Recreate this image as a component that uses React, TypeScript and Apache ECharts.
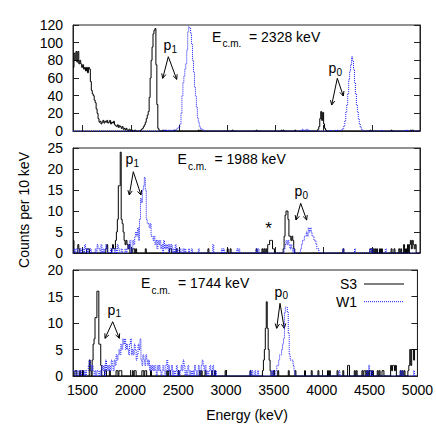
import React, { useEffect, useRef } from 'react';
import * as echarts from 'echarts';

// ---------- data ----------
const X_MIN = 1400;
const X_MAX = 5000;
const BIN = 10;
const energyTicks = [1500, 2000, 2500, 3000, 3500, 4000, 4500, 5000];
const yMaxes = [120, 25, 20];
const yIntervals = [20, 5, 5];
const beamEnergies = ['2328', '1988', '1744'];
const seriesNames = ['S3', 'W1'];

type Seg = [number, number[]];

// Ec.m. = 2328 keV
const topS3: Seg[] = [
  [1400, [72, 88, 80, 90, 78, 90, 76, 80, 76, 72, 75, 70, 72, 68, 72, 66, 72, 70, 56, 46, 42, 40, 35, 32, 25, 20, 14, 10, 11, 8, 10, 12, 9, 11, 10, 12, 9, 10, 12, 8, 10, 9, 11, 7, 6, 5, 7, 4, 6, 5, 3, 5, 2, 3, 1, 3, 1, 0, 2, 1, 0, 1, 0, 0, 1]],
  [2100, [1, 2, 3, 5, 7, 10, 14, 18, 22, 38, 60, 80, 95, 110, 114, 116, 75, 30, 3, 1]],
  [2330, [1, 0, 0, 1]],
  [2450, [1]],
  [2700, [1, 0, 1]],
  [3050, [1]],
  [3300, [1]],
  [3560, [1, 0, 1]],
  [3700, [1]],
  [3940, [2, 5, 14, 22, 12, 21, 8, 3, 1]],
  [4480, [1]],
  [4700, [1]],
  [4900, [1, 0, 1]],
];
const topW1: Seg[] = [
  [2340, [1, 0, 1, 0, 0, 1, 0, 1, 0, 0, 1, 0, 1]],
  [2470, [2, 3, 4, 5, 8, 20, 40, 55, 62, 70, 76, 92, 112, 118, 117, 110, 98, 80, 66, 50, 40, 27, 15, 10, 5, 3, 2, 2, 1]],
  [3760, [1, 0, 2, 1, 0, 1, 2, 0, 1]],
  [4060, [1]],
  [4120, [1, 0, 1]],
  [4180, [1, 2, 3, 6, 12, 22, 30, 42, 58, 68, 75, 84, 80, 70, 55, 42, 30, 22, 14, 8, 4, 2, 1]],
  [4600, [1]],
  [4850, [1, 0, 1]],
];

// Ec.m. = 1988 keV
const midS3: Seg[] = [
  [1400, [3, 0, 0, 0, 0, 2, 1, 0, 0, 0, 0, 0, 0, 0, 1, 1, 1, 0]],
  [1740, [1, 2, 0, 0, 0, 0, 1, 2, 1, 1, 3, 5, 8, 16, 16, 24, 8, 7, 5, 3, 2, 3, 2, 1, 2, 0, 0, 0, 1, 1, 0, 1]],
  [2150, [1]],
  [2400, [1, 1]],
  [2470, [1]],
  [2800, [1]],
  [3000, [1]],
  [3030, [1]],
  [3300, [1]],
  [3360, [1, 0, 1, 0, 1, 0, 2, 2, 3, 3, 3, 1, 1]],
  [3580, [1, 4, 9, 10, 10, 8, 4, 4, 3, 4, 3, 1]],
  [4200, [1]],
  [4480, [1, 1, 0, 1, 0, 1, 0, 1, 0, 0, 1, 0, 1]],
  [4700, [1, 0, 0, 1, 0, 0, 0, 0, 1, 0, 1, 0, 0, 2, 0, 1, 0, 2, 0, 2, 3, 1, 3, 2, 1, 2, 0, 0, 0, 0]],
];
const midW1: Seg[] = [
  [1400, [0, 1, 0, 1, 1, 0, 0, 1, 0, 1, 1, 0, 2, 1, 0, 1, 0, 0, 1, 0, 0, 0, 0, 1, 0, 2, 1, 1, 0, 2, 0, 1, 0, 1, 2, 1, 0, 0, 0, 1, 0, 1, 1, 0, 1, 0, 2, 1, 0, 0, 1, 0, 0, 0, 1, 0, 1]],
  [1970, [2, 1, 3, 0, 1, 3, 2, 4, 5, 4, 6, 3, 8, 13, 12, 15, 16, 18, 15, 8, 7, 7, 6, 7, 4, 4, 3, 4, 2, 3, 1, 3, 2, 3, 1, 2, 0, 3, 1, 2, 1, 2, 0, 2, 1, 2, 0, 1, 0, 2, 0, 1, 0, 0, 1, 0, 0, 1, 0, 1, 0, 0, 0, 1, 0, 0, 1]],
  [2700, [1, 0, 0, 0, 0, 0, 0, 0, 0, 0, 0, 0, 0, 0, 0, 2, 0, 0, 0, 0, 0, 0, 0, 0, 1, 0, 1]],
  [3100, [1, 0, 1]],
  [3300, [1, 0, 1]],
  [3590, [1, 2, 3, 2, 3, 2, 1, 2, 1, 0, 1, 0, 0, 0, 0, 0, 0, 1, 2, 3, 3, 4, 4, 5, 4, 6, 5, 6, 5, 4, 4, 3, 3, 2, 1, 1]],
  [4200, [1]],
  [4320, [1]],
  [4480, [1, 0, 1]],
  [4640, [1]],
];

// Ec.m. = 1744 keV
const botS3: Seg[] = [
  [1400, [0, 0, 1, 1, 0, 0, 0, 1, 0, 0, 1, 0, 0, 0, 0, 0, 0, 3, 1, 0, 3, 6, 7, 11, 11, 16, 16, 6, 6, 2, 0, 0, 0, 1, 1, 0, 0, 0, 1, 0, 0, 0, 0, 0, 0, 1, 1, 0, 1, 1, 1]],
  [2020, [1, 0, 1, 1]],
  [2120, [1, 1, 0, 1, 1, 0, 0, 0, 0, 1]],
  [2380, [1, 0, 1, 1]],
  [2500, [1]],
  [2720, [1, 0, 1, 0, 0, 0, 1]],
  [2850, [1, 0, 0, 1]],
  [2990, [1]],
  [3250, [1]],
  [3380, [1, 3, 5, 9, 14, 9, 5, 3, 1]],
  [3490, [1]],
  [3540, [1]],
  [3650, [1]],
  [3720, [1]],
  [3820, [1]],
  [3890, [1]],
  [3960, [1]],
  [4060, [1, 0, 1]],
  [4160, [1]],
  [4220, [1]],
  [4270, [2, 2]],
  [4340, [1, 0, 1]],
  [4420, [1, 0, 1, 1, 0, 1, 0, 1, 1, 1, 0, 1]],
  [4580, [1, 0, 1, 0, 0, 1, 1]],
  [4720, [2, 1, 2, 2, 1, 2, 0, 0, 0, 0, 1, 0, 1, 0, 1, 0, 0, 0, 1, 2, 5, 2, 5, 5, 3, 5, 5, 5]],
];
const botW1: Seg[] = [
  [1400, [
    1, 1, 0, 1, 1, 0, 1, 1, 0, 1,
    1, 0, 1, 0, 1, 1, 2, 3, 2, 1,
    2, 1, 0, 1, 0, 1, 1, 0, 1, 0,
    2, 1, 2, 0, 3, 1, 2, 1, 2, 1,
    3, 2, 1, 3, 2, 4, 3, 4, 5, 4,
    6, 5, 7, 6, 7, 5, 6, 5, 4, 6,
    7, 4, 5, 4, 6, 5, 3, 4, 6, 5,
    7, 3, 2, 4, 3, 2, 4, 3, 2, 3,
    1, 2, 1, 2, 1, 2, 1, 0, 2, 1,
    2, 1, 0, 1, 2, 1, 0, 2, 3, 1,
    2, 0, 1, 2, 0, 1, 0, 1, 2, 0,
    1, 0, 1, 2, 1, 3, 2, 0, 1, 0,
    2, 1, 0, 1, 0, 1, 0, 2, 1, 0,
    1, 2, 0, 1, 2, 3, 2, 1, 2, 0,
    1, 0, 1, 2, 1, 0, 2, 1, 0, 1,
  ]],
  [3250, [1, 0, 1, 0, 0, 1, 0, 0, 1]],
  [3470, [1, 0, 1, 0, 0, 1, 2, 2, 3, 4, 4, 5, 6, 7, 12, 13, 13, 12, 8, 4, 3, 3, 3, 2, 1]],
  [4180, [1]],
  [4470, [1, 0, 2, 1, 0, 1]],
  [4820, [1, 0, 1]],
  [4960, [1]],
];

const s3Panels = [topS3, midS3, botS3];
const w1Panels = [topW1, midW1, botW1];

// ---------- helpers ----------
function toSteps(segs: Seg[]): [number, number][] {
  const counts = new Map<number, number>();
  segs.forEach(([start, vals]) => vals.forEach((v, i) => counts.set(start + i * BIN, v)));
  const out: [number, number][] = [];
  for (let e = X_MIN; e < X_MAX; e += BIN) out.push([e, counts.get(e) ?? 0]);
  out.push([X_MAX, out[out.length - 1][1]]);
  return out;
}

const FONT = '"Liberation Sans", Arial, Helvetica, sans-serif';
const S3_COLOR = '#000';
const W1_COLOR = '#1a1aff';

function txt(x: number, baseline: number, text: string, size: number, align = 'left'): any {
  return {
    type: 'text',
    x,
    y: baseline - 0.35 * size,
    style: { text, fontSize: size, fontFamily: FONT, fill: '#000', align, verticalAlign: 'middle' },
  };
}

function arrow(x1: number, y1: number, x2: number, y2: number): any[] {
  const ang = Math.atan2(y2 - y1, x2 - x1);
  const L = 5;
  const a = 0.45;
  const p1 = [x2 - L * Math.cos(ang - a), y2 - L * Math.sin(ang - a)];
  const p2 = [x2 - L * Math.cos(ang + a), y2 - L * Math.sin(ang + a)];
  return [
    { type: 'line', shape: { x1, y1, x2, y2 }, style: { stroke: '#000', lineWidth: 1 } },
    { type: 'polyline', shape: { points: [p1, [x2, y2], p2] }, style: { stroke: '#000', fill: null, lineWidth: 1 } },
  ];
}

function ecm(x: number, baseline: number, value: string): any[] {
  return [
    txt(x, baseline, 'E', 14),
    txt(x + 10.5, baseline + 5.6, 'c.m.', 10),
    txt(x + 37, baseline, '= ' + value + ' keV', 14),
  ];
}

function pLabel(x: number, baseline: number, sub: string): any[] {
  return [txt(x, baseline, 'p', 14), txt(x + 8, baseline + 3, sub, 10)];
}

const gridBoxes = [
  { top: 25, height: 106 },
  { top: 148, height: 105 },
  { top: 270, height: 106 },
];

export default function App() {
  const ref = useRef<HTMLDivElement>(null);
  useEffect(() => {
    document.body.style.margin = '0';
    const chart = echarts.init(ref.current!, null, { renderer: 'svg' });
    const grid = gridBoxes.map((g) => ({
      left: 73,
      right: 16,
      top: g.top,
      height: g.height,
      show: true,
      borderColor: '#222',
      borderWidth: 1,
      backgroundColor: 'transparent',
    }));
    const xAxis = gridBoxes.map((_, i) => ({
      type: 'value',
      gridIndex: i,
      min: X_MIN,
      max: X_MAX,
      axisLine: { show: true, lineStyle: { color: '#222', width: 1 } },
      axisTick: { show: true, inside: true, length: 6, customValues: energyTicks, lineStyle: { color: '#222' } },
      axisLabel: {
        show: i === 2,
        customValues: energyTicks,
        formatter: (v: number) => String(v),
        fontSize: 14,
        fontFamily: FONT,
        color: '#000',
        margin: 7,
      },
      splitLine: { show: false },
    }));
    const yLeft = gridBoxes.map((_, i) => ({
      type: 'value',
      gridIndex: i,
      min: 0,
      max: yMaxes[i],
      interval: yIntervals[i],
      position: 'left',
      axisLine: { show: true, lineStyle: { color: '#222', width: 1 } },
      axisTick: { show: true, inside: true, length: 6, lineStyle: { color: '#222' } },
      axisLabel: { fontSize: 14, fontFamily: FONT, color: '#000', margin: 10 },
      splitLine: { show: false },
    }));
    const yRight = gridBoxes.map((_, i) => ({
      type: 'value',
      gridIndex: i,
      min: 0,
      max: yMaxes[i],
      interval: yIntervals[i],
      position: 'right',
      axisLine: { show: true, lineStyle: { color: '#222', width: 1 } },
      axisTick: { show: true, inside: true, length: 6, lineStyle: { color: '#222' } },
      axisLabel: { show: false },
      splitLine: { show: false },
    }));
    const series: any[] = [];
    gridBoxes.forEach((_, i) => {
      series.push({
        name: seriesNames[0],
        type: 'line',
        xAxisIndex: i,
        yAxisIndex: i,
        step: 'end',
        symbol: 'none',
        color: S3_COLOR,
        lineStyle: { color: S3_COLOR, width: 1 },
        data: toSteps(s3Panels[i]),
      });
      series.push({
        name: seriesNames[1],
        type: 'line',
        xAxisIndex: i,
        yAxisIndex: i,
        step: 'end',
        symbol: 'none',
        color: W1_COLOR,
        lineStyle: { color: W1_COLOR, width: 1, type: 'dotted' },
        data: toSteps(w1Panels[i]),
      });
    });

    const graphic: any[] = [
      ...ecm(212, 41.7, beamEnergies[0]),
      ...ecm(177.5, 164.3, beamEnergies[1]),
      ...ecm(141, 288.3, beamEnergies[2]),
      ...pLabel(163.5, 49.8, '1'),
      ...arrow(168.3, 56.7, 162.7, 78.3),
      ...arrow(168.3, 56.7, 176.7, 79.3),
      ...pLabel(328.5, 73, '0'),
      ...arrow(337.3, 78.3, 331.7, 105),
      ...arrow(337.3, 78.3, 343.3, 96),
      ...pLabel(125.5, 163.8, '1'),
      ...arrow(133.3, 171.7, 129.3, 195),
      ...arrow(133.3, 171.7, 141, 195),
      ...pLabel(294.5, 196, '0'),
      ...arrow(300.7, 203.3, 296, 220),
      ...arrow(300.7, 203.3, 306.7, 220),
      ...pLabel(107.5, 314.4, '1'),
      ...arrow(112.7, 321.7, 105, 338.3),
      ...arrow(112.7, 321.7, 119.3, 338.3),
      ...pLabel(274.5, 296.4, '0'),
      ...arrow(280, 303.3, 276.7, 328.3),
      ...arrow(280, 303.3, 284.3, 328.3),
      txt(268.5, 234, '*', 17, 'center'),
      // legend
      txt(357, 289, seriesNames[0], 14, 'right'),
      { type: 'line', shape: { x1: 364, y1: 284, x2: 404, y2: 284 }, style: { stroke: S3_COLOR, lineWidth: 1 } },
      txt(357, 306.7, seriesNames[1], 14, 'right'),
      { type: 'line', shape: { x1: 364, y1: 301.7, x2: 404, y2: 301.7 }, style: { stroke: W1_COLOR, lineWidth: 1, lineDash: [1, 1] } },
      {
        type: 'text',
        x: 23.5,
        y: 210,
        rotation: Math.PI / 2,
        style: { text: 'Counts per 10 keV', fontSize: 14, fontFamily: FONT, fill: '#000', align: 'center', verticalAlign: 'middle' },
      },
      {
        type: 'text',
        x: 247,
        y: 415,
        style: { text: 'Energy (keV)', fontSize: 14, fontFamily: FONT, fill: '#000', align: 'center', verticalAlign: 'middle' },
      },
    ];

    chart.setOption({
      animation: false,
      backgroundColor: '#fff',
      grid,
      xAxis,
      yAxis: [...yLeft, ...yRight],
      series,
      graphic,
    });
    return () => chart.dispose();
  }, []);
  return <div ref={ref} style={{ position: 'absolute', left: 0, top: 0, width: 436, height: 436 }} />;
}
